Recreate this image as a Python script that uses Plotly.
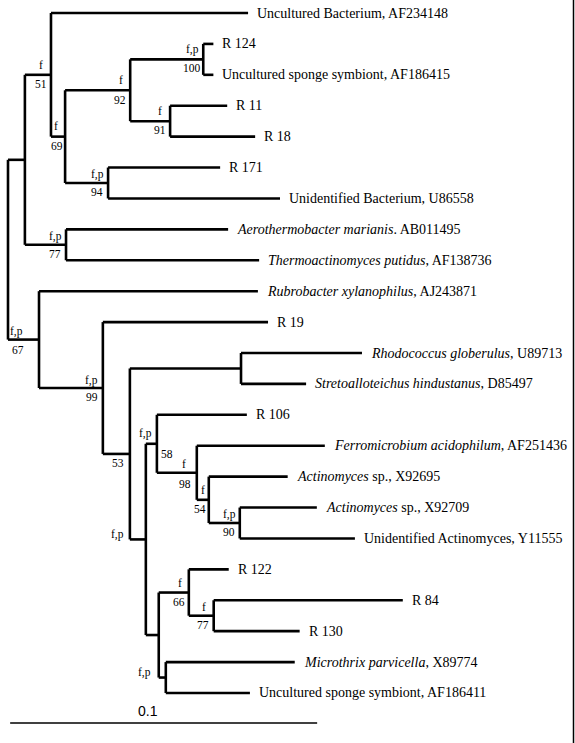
import plotly.graph_objects as go

# ---------------- data ----------------
leaf_labels = [
    "Uncultured Bacterium, AF234148",
    "R 124",
    "Uncultured sponge symbiont, AF186415",
    "R 11",
    "R 18",
    "R 171",
    "Unidentified Bacterium, U86558",
    "<i>Aerothermobacter marianis</i>. AB011495",
    "<i>Thermoactinomyces putidus</i>, AF138736",
    "<i>Rubrobacter xylanophilus</i>, AJ243871",
    "R 19",
    "<i>Rhodococcus globerulus</i>, U89713",
    "<i>Stretoalloteichus hindustanus</i>, D85497",
    "R 106",
    "<i>Ferromicrobium acidophilum</i>, AF251436",
    "<i>Actinomyces</i> sp., X92695",
    "<i>Actinomyces</i> sp., X92709",
    "Unidentified Actinomyces, Y11555",
    "R 122",
    "R 84",
    "R 130",
    "<i>Microthrix parvicella</i>, X89774",
    "Uncultured sponge symbiont, AF186411",
]

# internal node: (name, branch length, children); leaf: (leaf index, branch length)
tree = ("root", 0.0, [
    ("A", 0.0055, [
        ("n51", 0.0085, [
            (0, 0.0642),
            ("n69", 0.0046, [
                ("n92", 0.0212, [
                    ("n100", 0.0238, [(1, 0.0033), (2, 0.0033)]),
                    ("n91", 0.0130, [(3, 0.0186), (4, 0.0277)]),
                ]),
                ("n94", 0.0140, [(5, 0.0365), (6, 0.0560)]),
            ]),
        ]),
        ("n77a", 0.0134, [(7, 0.0528), (8, 0.0629)]),
    ]),
    ("n67", 0.0101, [
        (9, 0.0713),
        ("n99", 0.0208, [
            (10, 0.0538),
            ("n130", 0.0088, [
                ("nRS", 0.0362, [(11, 0.0394), (12, 0.0212)]),
                ("n146", 0.0052, [
                    ("n58", 0.0036, [
                        (13, 0.0293),
                        ("n98", 0.0130, [
                            (14, 0.0417),
                            ("n54", 0.0039, [
                                (15, 0.0257),
                                ("n90", 0.0101, [(16, 0.0251), (17, 0.0375)]),
                            ]),
                        ]),
                    ]),
                    ("nL", 0.0042, [
                        ("n66", 0.0098, [
                            (18, 0.0130),
                            ("n77b", 0.0081, [(19, 0.0616), (20, 0.0280)]),
                        ]),
                        ("nM", 0.0023, [(21, 0.0420), (22, 0.0274)]),
                    ]),
                ]),
            ]),
        ]),
    ]),
])

# support labels: node -> (above branch, below branch)
support = {
    "n51": ("f", "51"), "n69": ("f", "69"), "n92": ("f", "92"),
    "n100": ("f,p", "100"), "n91": ("f", "91"), "n94": ("f,p", "94"),
    "n77a": ("f,p", "77"), "n67": ("f,p", "67"), "n99": ("f,p", "99"),
    "n130": ("", "53"), "n146": ("f,p", ""), "n58": ("f,p", "58"),
    "n98": ("f", "98"), "n54": ("f", "54"), "n90": ("f,p", "90"),
    "n66": ("f", "66"), "n77b": ("f", "77"), "nM": ("f,p", ""),
}
scale_value = 0.1
scale_label = "0.1"

# label placement tweaks in pixels: (dx_top, dy_top, dx_bot, dy_bot)
default_off = (-10, 10, -10, -9)
label_off = {
    "n100": (-11, 10, -11, -9), "n94": (-11, 9, -11, -9), "n77a": (-11, 8, -11, -9),
    "n67": (-23, 8, -21, -10), "n99": (-11, 8, -11, -9), "n130": (0, 0, -12, -9),
    "n146": (-28, 5, 0, 0), "n58": (-11, 10, 10, -10), "n98": (-13, 9, -12, -11),
    "n54": (-6, 10, -9, -9), "n90": (-10, 8, -11, -9), "nM": (-21, 5, 0, 0),
    "n69": (-9, 11, -8, -9), "n92": (-9, 10, -10, -10), "n66": (-9, 10, -10, -9),
    "n77b": (-10, 9, -11, -9), "n91": (-10, 10, -10, -9),
}

SERIF = "Times New Roman, Liberation Serif, serif"
SANS = "Arial, Liberation Sans, sans-serif"

# ---------------- layout of tree ----------------
seg_x, seg_y = [], []
tips = []      # (x, y, idx)
nodes = {}     # name -> (x, y, parent_x)


def layout(node, parent_x):
    if len(node) == 2:
        idx, bl = node
        x = parent_x + bl
        y = float(idx)
        seg_x.extend([parent_x, x, None]); seg_y.extend([y, y, None])
        tips.append((x, y, idx))
        return y
    name, bl, children = node
    x = parent_x + bl
    ys = [layout(c, x) for c in children]
    y = (ys[0] + ys[-1]) / 2.0
    seg_x.extend([x, x, None]); seg_y.extend([ys[0], ys[-1], None])
    if bl > 0:
        seg_x.extend([parent_x, x, None]); seg_y.extend([y, y, None])
    nodes[name] = (x, y, parent_x)
    return y


layout(tree, 0.0)

fig = go.Figure()
fig.add_trace(go.Scatter(x=seg_x, y=seg_y, mode="lines",
                         line=dict(color="black", width=2.6),
                         hoverinfo="skip", showlegend=False))

annotations = []
for x, y, idx in tips:
    annotations.append(dict(x=x, y=y, text=leaf_labels[idx], showarrow=False,
                            xanchor="left", yanchor="middle", xshift=7,
                            font=dict(family=SERIF, size=14, color="black")))

for name, (top, bot) in support.items():
    nx, ny, _ = nodes[name]
    dxt, dyt, dxb, dyb = label_off.get(name, default_off)
    if top:
        annotations.append(dict(x=nx, y=ny, text=top, showarrow=False,
                                xanchor="center", yanchor="middle",
                                xshift=dxt, yshift=dyt,
                                font=dict(family=SERIF, size=11.5, color="black")))
    if bot:
        annotations.append(dict(x=nx, y=ny, text=bot, showarrow=False,
                                xanchor="center", yanchor="middle",
                                xshift=dxb, yshift=dyb,
                                font=dict(family=SERIF, size=11.5, color="black")))

# scale bar
sb_y = 22.97
fig.add_trace(go.Scatter(x=[0.0007, 0.0007 + scale_value], y=[sb_y, sb_y], mode="lines",
                         line=dict(color="black", width=1.4),
                         hoverinfo="skip", showlegend=False))
annotations.append(dict(x=0.0007 + scale_value * 0.45, y=sb_y, text=scale_label,
                        showarrow=False, xanchor="center", yanchor="bottom", yshift=2,
                        font=dict(family=SANS, size=14, color="black")))

fig.update_layout(
    width=575, height=743,
    margin=dict(l=0, r=0, t=0, b=0),
    paper_bgcolor="white", plot_bgcolor="white",
    xaxis=dict(range=[-8 / 3070, 567 / 3070], visible=False, fixedrange=True),
    yaxis=dict(range=[23.618, -0.4206], visible=False, fixedrange=True),
    annotations=annotations,
    shapes=[dict(type="line", xref="paper", yref="paper", x0=573.5 / 575, x1=573.5 / 575,
                 y0=0, y1=1, line=dict(color="black", width=1.5))],
)

# remove the default page margin so the figure fills the window exactly
fig.write_html("out.html",
               post_script="document.body.style.margin='0';document.body.style.overflow='hidden';",
               config={"displayModeBar": False})
